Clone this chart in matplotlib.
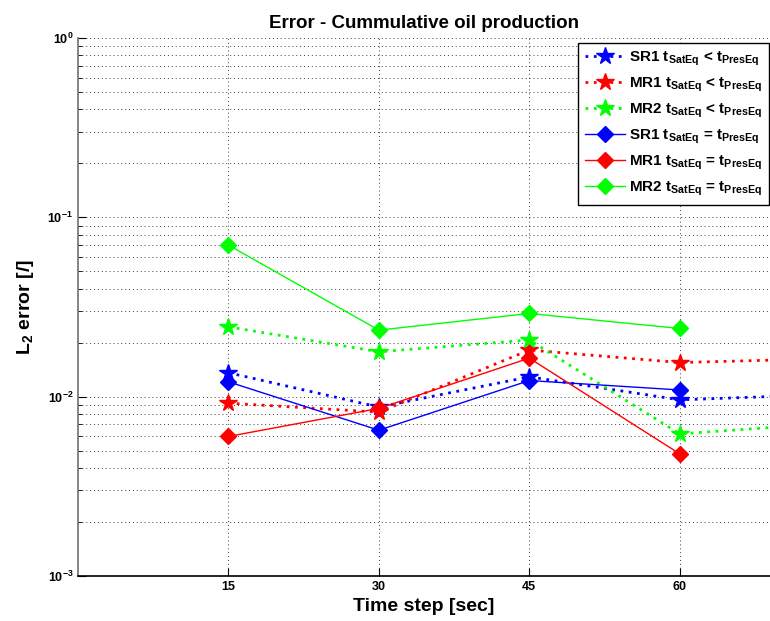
import matplotlib
matplotlib.use("Agg")
import matplotlib.pyplot as plt

plt.rcParams['font.family'] = ['Liberation Sans', 'DejaVu Sans']
plt.rcParams['mathtext.fontset'] = 'custom'
plt.rcParams['mathtext.rm'] = 'Liberation Sans:bold'
plt.rcParams['mathtext.bf'] = 'Liberation Sans:bold'
plt.rcParams['mathtext.it'] = 'Liberation Sans:bold'
plt.rcParams['mathtext.default'] = 'bf'

# Time steps [sec]
steps = [15, 30, 45, 60, 75]
steps_eq = [15, 30, 45, 60]

# L2 error, t_SatEq < t_PresEq
sr1_lt = [0.0136, 0.00875, 0.0129, 0.0096, 0.0103]
mr1_lt = [0.0092, 0.0082, 0.0182, 0.0155, 0.0163]
mr2_lt = [0.0245, 0.0178, 0.0207, 0.0062, 0.0071]

# L2 error, t_SatEq = t_PresEq
sr1_eq = [0.0121, 0.0065, 0.0123, 0.0109]
mr1_eq = [0.0060, 0.0086, 0.0164, 0.0048]
mr2_eq = [0.0700, 0.0235, 0.0291, 0.0240]

x_ticks = [15, 30, 45, 60]

blue, red, green = (0, 0, 1), (1, 0, 0), (0, 1, 0)

fig = plt.figure(figsize=(7.7, 6.21), dpi=100)
ax = fig.add_axes([78 / 770, 45 / 621, 692 / 770, 538 / 621])

dot = (0, (1, 2))
ax.plot(steps, sr1_lt, linestyle=dot, lw=2, color=blue, marker='*', ms=13,
        label=r'SR1 t$_{SatEq}$ < t$_{PresEq}$', zorder=3)
ax.plot(steps, mr1_lt, linestyle=dot, lw=2, color=red, marker='*', ms=13,
        label=r'MR1 t$_{SatEq}$ < t$_{PresEq}$', zorder=3)
ax.plot(steps, mr2_lt, linestyle=dot, lw=2, color=green, marker='*', ms=13,
        label=r'MR2 t$_{SatEq}$ < t$_{PresEq}$', zorder=3)
ax.plot(steps_eq, sr1_eq, '-', lw=1, color=blue, marker='D', ms=8,
        label=r'SR1 t$_{SatEq}$ = t$_{PresEq}$', zorder=3)
ax.plot(steps_eq, mr1_eq, '-', lw=1, color=red, marker='D', ms=8,
        label=r'MR1 t$_{SatEq}$ = t$_{PresEq}$', zorder=3)
ax.plot(steps_eq, mr2_eq, '-', lw=1, color=green, marker='D', ms=8,
        label=r'MR2 t$_{SatEq}$ = t$_{PresEq}$', zorder=3)

ax.set_yscale('log')
ax.set_ylim(1e-3, 1)
ax.set_xlim(0, 69)
ax.set_xticks(x_ticks)
ax.set_xticklabels([str(t) for t in x_ticks])

ax.grid(True, which='both', axis='y', linestyle=(0, (1, 3)), color='#404040', lw=0.7)
ax.grid(True, which='major', axis='x', linestyle=(0, (1, 3)), color='#404040', lw=0.7)

for s in ['top', 'right']:
    ax.spines[s].set_visible(False)
ax.spines['left'].set_color('#707070')
ax.spines['left'].set_linewidth(1.2)
ax.spines['bottom'].set_color('k')
ax.spines['bottom'].set_linewidth(1.2)

ax.tick_params(which='both', direction='in', labelsize=9)
ax.tick_params(which='major', length=6)
ax.tick_params(which='minor', length=3)
for lab in ax.get_xticklabels() + ax.get_yticklabels():
    lab.set_fontweight('bold')

ax.set_title('Error - Cummulative oil production', fontsize=13.5, fontweight='bold', pad=7)
ax.set_xlabel('Time step [sec]', fontsize=14, fontweight='bold', labelpad=4)
ax.set_ylabel(r'L$_2$ error [/]', fontsize=14, fontweight='bold', labelpad=8)

leg = ax.legend(loc='upper right', bbox_to_anchor=(769 / 770, (621 - 43) / 621),
                bbox_transform=fig.transFigure, borderaxespad=0, fancybox=False,
                framealpha=1, edgecolor='k', fontsize=11, labelspacing=0.5,
                handlelength=2.6, borderpad=0.45, handletextpad=0.3)
leg.get_frame().set_linewidth(1.0)
for t in leg.get_texts():
    t.set_fontweight('bold')

fig.savefig('out.png', dpi=100)
